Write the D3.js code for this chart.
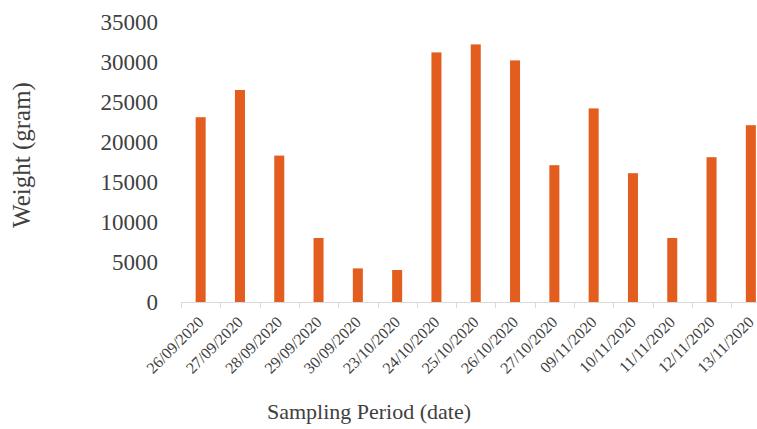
<!DOCTYPE html>
<html>
<head>
<meta charset="utf-8">
<script src="https://cdn.jsdelivr.net/npm/d3@7"></script>
<style>
  body { margin: 0; background: #fff; }
  text { font-family: "Liberation Serif", "Times New Roman", serif; fill: #404040; }
</style>
</head>
<body>
<div id="chart"></div>
<script>
var dates = ["26/09/2020", "27/09/2020", "28/09/2020", "29/09/2020", "30/09/2020",
             "23/10/2020", "24/10/2020", "25/10/2020", "26/10/2020", "27/10/2020",
             "09/11/2020", "10/11/2020", "11/11/2020", "12/11/2020", "13/11/2020"];
var weights = [23100, 26500, 18300, 8000, 4200,
               4000, 31200, 32200, 30200, 17100,
               24200, 16100, 8000, 18100, 22100];
var yTicks = [0, 5000, 10000, 15000, 20000, 25000, 30000, 35000];

var width = 757,
    height = 429,
    plotLeft = 181,
    step = 39.3,
    plotTop = 22,
    plotBottom = 302;

var svg = d3.select("#chart")
  .append("svg")
  .attr("width", width)
  .attr("height", height);

// plot runs past the right edge, like the cropped original
var x = d3.scaleBand()
  .domain(dates)
  .range([plotLeft, plotLeft + step * dates.length])
  .paddingInner(0.745)
  .paddingOuter(0.3725);

var y = d3.scaleLinear()
  .domain([0, 35000])
  .range([plotBottom, plotTop]);

// bars
svg.selectAll(null)
  .data(weights)
  .enter().append("rect")
  .attr("x", function(d, i) { return x(dates[i]); })
  .attr("y", function(d) { return y(d); })
  .attr("width", x.bandwidth())
  .attr("height", function(d) { return y(0) - y(d); })
  .attr("fill", "#e35d1e");

// x axis line and ticks between categories
svg.append("line")
  .attr("x1", plotLeft).attr("x2", width)
  .attr("y1", plotBottom + 0.5).attr("y2", plotBottom + 0.5)
  .attr("stroke", "#d9d9d9").attr("stroke-width", 1);

svg.selectAll(null)
  .data(d3.range(dates.length + 1))
  .enter().append("line")
  .attr("x1", function(i) { return Math.round(plotLeft + i * x.step()) + 0.5; })
  .attr("x2", function(i) { return Math.round(plotLeft + i * x.step()) + 0.5; })
  .attr("y1", plotBottom).attr("y2", plotBottom + 6)
  .attr("stroke", "#d9d9d9");

var xAxis = svg.append("g")
  .attr("transform", "translate(0," + plotBottom + ")")
  .call(d3.axisBottom(x).tickSize(0));
xAxis.attr("font-size", null).attr("font-family", null);
xAxis.select(".domain").remove();
xAxis.selectAll("text")
  .style("font-size", "16px")
  .style("text-anchor", "end")
  .attr("dy", null).attr("y", 0)
  .attr("transform", "translate(4,21) rotate(-45)");

// y axis labels (no axis line)
var yAxis = svg.append("g")
  .attr("transform", "translate(" + (plotLeft - 23) + ",0)")
  .call(d3.axisLeft(y).tickValues(yTicks).tickSize(0).tickPadding(0).tickFormat(d3.format("d")));
yAxis.attr("font-size", null).attr("font-family", null);
yAxis.select(".domain").remove();
yAxis.selectAll("text")
  .style("font-size", "23px");

// titles
svg.append("text")
  .attr("transform", "translate(30,155) rotate(-90)")
  .style("text-anchor", "middle")
  .style("font-size", "25px")
  .text("Weight (gram)");

svg.append("text")
  .attr("x", 369)
  .attr("y", 419)
  .style("text-anchor", "middle")
  .style("font-size", "22px")
  .text("Sampling Period (date)");
</script>
</body>
</html>
